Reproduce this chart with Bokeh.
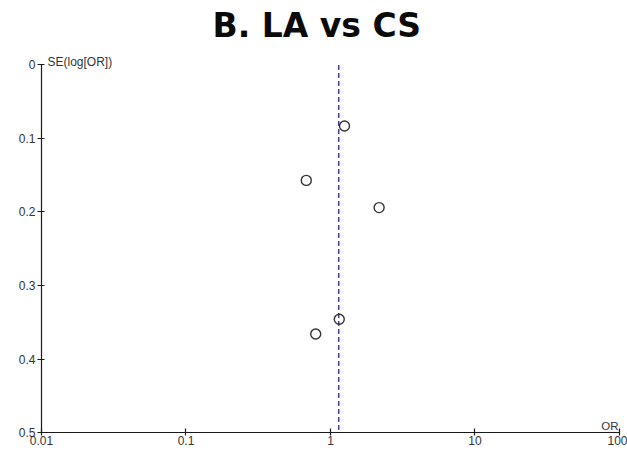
from bokeh.plotting import figure
from bokeh.models import Range1d, FixedTicker, Label
from bokeh.embed import file_html
from bokeh.resources import INLINE

# Data
odds_ratio = [1.25, 0.68, 2.17, 1.15, 0.79]
se_log_or = [0.083, 0.157, 0.194, 0.346, 0.366]
pooled_or = 1.14

x_ticks = [0.01, 0.1, 1, 10, 100]
x_tick_labels = ["0.01", "0.1", "1", "10", "100"]
y_ticks = [0, 0.1, 0.2, 0.3, 0.4, 0.5]
y_tick_labels = ["0", "0.1", "0.2", "0.3", "0.4", "0.5"]

p = figure(width=627, height=453, x_axis_type="log",
           x_range=Range1d(0.005204, 113.6), y_range=Range1d(0.52857, -0.02789),
           output_backend="svg", toolbar_location=None,
           min_border_left=0, min_border_right=0, min_border_bottom=0,
           min_border_top=44)

p.title.text = "B. LA vs CS"
p.title.text_font = "DejaVu Sans"
p.title.text_font_style = "bold"
p.title.text_font_size = "33px"
p.title.text_color = "#0a0a0a"
p.title.align = "left"
p.title.offset = 212
p.title.standoff = 0

p.outline_line_color = None
p.xgrid.grid_line_color = None
p.ygrid.grid_line_color = None

for ax in (p.xaxis[0], p.yaxis[0]):
    ax.axis_line_color = "#1a1a1a"
    ax.axis_line_width = 1.2
    ax.major_tick_line_color = "#1a1a1a"
    ax.major_tick_line_width = 1.2
    ax.minor_tick_line_color = None
    ax.major_label_text_font = "Liberation Sans"
    ax.major_label_text_font_size = "12px"
    ax.major_label_text_color = "#333333"

p.xaxis.major_tick_in = 4
p.xaxis.major_tick_out = 3
p.xaxis.major_label_standoff = 0
p.yaxis.major_tick_in = 3
p.yaxis.major_tick_out = 4
p.yaxis.major_label_standoff = 2

p.xaxis.fixed_location = 0.5
p.xaxis.bounds = (0.01, 100)
p.yaxis.fixed_location = 0.01
p.yaxis.bounds = (0, 0.5)

p.xaxis.ticker = FixedTicker(ticks=x_ticks)
p.xaxis.major_label_overrides = dict(zip(x_ticks, x_tick_labels))
p.yaxis.ticker = FixedTicker(ticks=y_ticks)
p.yaxis.major_label_overrides = dict(zip(y_ticks, y_tick_labels))

p.segment(x0=[pooled_or], y0=[0], x1=[pooled_or], y1=[0.5], line_color="#3a3ab4",
          line_width=1.5, line_dash="5 3")

p.scatter(odds_ratio, se_log_or, marker="circle", size=10, fill_color="white",
          fill_alpha=0, line_color="#333333", line_width=1.4)

p.add_layout(Label(x=0.01, y=0, x_offset=6, y_offset=2.5, text="SE(log[OR])",
                   text_font="Liberation Sans", text_font_size="12px",
                   text_color="#333333", text_baseline="alphabetic"))
p.add_layout(Label(x=100, y=0.5, x_offset=-1, y_offset=7, text="OR",
                   text_font="Liberation Sans", text_font_size="11.5px",
                   text_color="#333333", text_align="right",
                   text_baseline="alphabetic"))

open("out.html", "w").write(file_html(p, INLINE))
